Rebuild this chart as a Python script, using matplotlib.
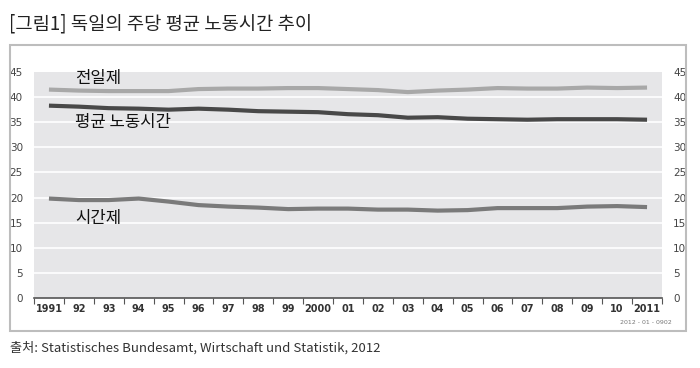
import numpy as np
import matplotlib
matplotlib.use('Agg')
import matplotlib.pyplot as plt
from matplotlib.patches import Rectangle

plt.rcParams['font.family'] = ['Noto Sans CJK KR', 'DejaVu Sans']

# 데이터
years = ['1991', '92', '93', '94', '95', '96', '97', '98', '99', '2000',
         '01', '02', '03', '04', '05', '06', '07', '08', '09', '10', '2011']
full_time = [41.5, 41.3, 41.2, 41.2, 41.2, 41.6, 41.7, 41.7, 41.8, 41.8,
             41.6, 41.4, 41.0, 41.3, 41.5, 41.8, 41.7, 41.7, 41.9, 41.8, 41.9]
average = [38.3, 38.1, 37.8, 37.7, 37.5, 37.7, 37.5, 37.2, 37.1, 37.0,
           36.6, 36.4, 35.9, 36.0, 35.7, 35.6, 35.5, 35.6, 35.6, 35.6, 35.5]
part_time = [19.8, 19.5, 19.5, 19.8, 19.2, 18.5, 18.2, 18.0, 17.7, 17.8,
             17.8, 17.6, 17.6, 17.4, 17.5, 17.9, 17.9, 17.9, 18.2, 18.3, 18.1]
y_ticks = [0, 5, 10, 15, 20, 25, 30, 35, 40, 45]

W, H = 700, 368
fig = plt.figure(figsize=(W / 100, H / 100), dpi=100)

# 바깥 테두리
fig.patches.append(Rectangle((10 / W, 1 - 331 / H), 676 / W, 286 / H,
                             transform=fig.transFigure, fill=False,
                             edgecolor='#bdbdbd', linewidth=1.5))

ax = fig.add_axes([34 / W, 1 - 298 / H, 628 / W, 226 / H])
ax.set_facecolor('#e6e6e8')
x = np.arange(len(years))

ax.plot(x, full_time, color='#a8a8a8', linewidth=3, solid_capstyle='butt')
ax.plot(x, average, color='#484848', linewidth=3, solid_capstyle='butt')
ax.plot(x, part_time, color='#7a7a7a', linewidth=3, solid_capstyle='butt')

ax.set_xlim(-0.5, len(years) - 0.5)
ax.set_ylim(0, 45)
ax.set_yticks(y_ticks)
for v in y_ticks[1:-1]:
    ax.axhline(v, color='white', linewidth=1.2, zorder=0.5)

for s in ['top', 'left', 'right']:
    ax.spines[s].set_visible(False)
ax.spines['bottom'].set_color('#555555')
ax.spines['bottom'].set_linewidth(1.2)

ax.set_xticks(np.arange(-0.5, len(years)), minor=False)
ax.set_xticklabels([])
ax.set_xticks(x, minor=True)
ax.set_xticklabels(years, minor=True)
ax.tick_params(axis='x', which='major', length=4, color='#555555', direction='out')
ax.tick_params(axis='x', which='minor', length=0, pad=4,
               labelsize=7, labelcolor='#333333')
for lbl in ax.get_xticklabels(minor=True):
    lbl.set_fontweight('bold')
    lbl.set_family(['DejaVu Sans'])

ax.tick_params(axis='y', length=0, labelsize=7.5, labelcolor='#444444',
               pad=8, left=True, right=False, labelleft=True, labelright=True)
for lbl in ax.get_yticklabels():
    lbl.set_family(['DejaVu Sans'])

# 시리즈 이름
ax.text(0.88, 43.8, '전일제', fontsize=12, va='center', ha='left', color='#111111')
ax.text(0.88, 34.9, '평균 노동시간', fontsize=12, va='center', ha='left', color='#111111')
ax.text(0.88, 15.9, '시간제', fontsize=12, va='center', ha='left', color='#111111')

fig.text(672 / W, 1 - 323 / H, '2012 - 01 - 0902', fontsize=4.5, color='#777777',
         ha='right', va='center', family=['DejaVu Sans'])

fig.text(9 / W, 1 - 24 / H, '[그림1] 독일의 주당 평균 노동시간 추이', fontsize=13.5,
         color='#222222', ha='left', va='center')
fig.text(10 / W, 1 - 348 / H,
         '출처: Statistisches Bundesamt, Wirtschaft und Statistik, 2012',
         fontsize=9.5, color='#333333', ha='left', va='center')

fig.savefig('out.png', dpi=100)
